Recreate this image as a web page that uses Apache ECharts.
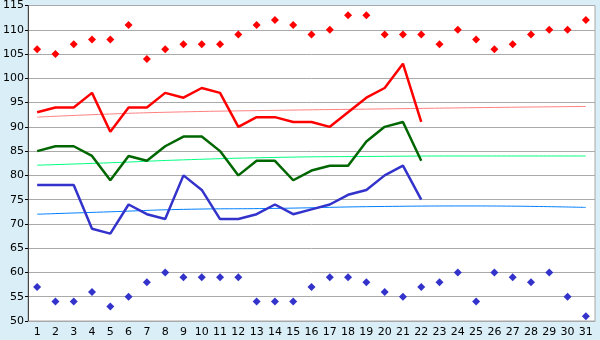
<!DOCTYPE html>
<html>
<head>
<meta charset="utf-8">
<script src="https://cdn.jsdelivr.net/npm/echarts@6/dist/echarts.min.js"></script>
<style>
  html, body { margin: 0; padding: 0; background: #d9eef6; }
  #chart { width: 600px; height: 340px; }
</style>
</head>
<body>
<div id="chart"></div>
<script>
// days of the month
const days = [];
for (let d = 1; d <= 31; d++) days.push(String(d));

// highs / lows (diamonds)
const maxPoints = [106, 105, 107, 108, 108, 111, 104, 106, 107, 107, 107, 109, 111, 112, 111, 109,
  110, 113, 113, 109, 109, 109, 107, 110, 108, 106, 107, 109, 110, 110, 112];
const minPoints = [57, 54, 54, 56, 53, 55, 58, 60, 59, 59, 59, 59, 54, 54, 54, 57,
  59, 59, 58, 56, 55, 57, 58, 60, 54, 60, 59, 58, 60, 55, 51];

// daily lines (days 1-22)
const redLine = [93, 94, 94, 97, 89, 94, 94, 97, 96, 98, 97, 90, 92, 92, 91, 91, 90, 93, 96, 98, 103, 91];
const greenLine = [85, 86, 86, 84, 79, 84, 83, 86, 88, 88, 85, 80, 83, 83, 79, 81, 82, 82, 87, 90, 91, 83];
const blueLine = [78, 78, 78, 69, 68, 74, 72, 71, 80, 77, 71, 71, 72, 74, 72, 73, 74, 76, 77, 80, 82, 75];

// trend lines, read at a few days: [day index, value]
const redTrend = [[0, 92.0], [3, 92.5], [7, 93.0], [13, 93.4], [19, 93.7], [25, 94.0], [30, 94.2]];
const greenTrend = [[0, 82.1], [4, 82.6], [8, 83.2], [13, 83.7], [18, 83.9], [24, 84.0], [30, 84.0]];
const blueTrend = [[0, 72.0], [4, 72.5], [8, 73.0], [13, 73.2], [19, 73.6], [24, 73.7], [30, 73.4]];

const chart = echarts.init(document.getElementById('chart'));

function lineSeries(data, color, width) {
  return {
    type: 'line', data: data, symbol: 'none', silent: true,
    lineStyle: { color: color, width: width }, itemStyle: { color: color }
  };
}
function trendSeries(data, color) {
  return {
    type: 'line', data: data, symbol: 'none', smooth: true, silent: true, z: 1,
    lineStyle: { color: color, width: 1 }, itemStyle: { color: color }
  };
}
function dotSeries(data, color) {
  return {
    type: 'scatter', data: data, symbol: 'diamond', symbolSize: 8, silent: true,
    itemStyle: { color: color, opacity: 1 }
  };
}

chart.setOption({
  animation: false,
  backgroundColor: '#d9eef6',
  textStyle: { fontFamily: 'DejaVu Sans' },
  grid: {
    left: 26, right: 5, top: 5, bottom: 19,
    show: true, backgroundColor: '#ffffff', borderColor: '#a8a8a8', borderWidth: 1
  },
  xAxis: {
    type: 'category',
    data: days,
    boundaryGap: true,
    axisLine: { lineStyle: { color: '#a8a8a8' } },
    axisTick: { alignWithLabel: true, length: 5, lineStyle: { color: '#000' } },
    axisLabel: { color: '#000', fontSize: 11, margin: 6 },
    splitLine: { show: false }
  },
  yAxis: {
    type: 'value',
    min: 50, max: 115, interval: 5,
    axisLine: { show: true, lineStyle: { color: '#444' } },
    axisTick: { show: true, length: 3, lineStyle: { color: '#000' } },
    axisLabel: { color: '#000', fontSize: 11, margin: 4 },
    splitLine: { lineStyle: { color: '#aaaaaa', width: 1 } }
  },
  series: [
    trendSeries(redTrend, '#ff8080'),
    trendSeries(greenTrend, '#00ff80'),
    trendSeries(blueTrend, '#0080ff'),
    lineSeries(redLine, '#ff0000', 2.5),
    lineSeries(greenLine, '#006600', 2.5),
    lineSeries(blueLine, '#3333cc', 2.5),
    dotSeries(maxPoints, '#ff0000'),
    dotSeries(minPoints, '#3333cc')
  ]
});
</script>
</body>
</html>
